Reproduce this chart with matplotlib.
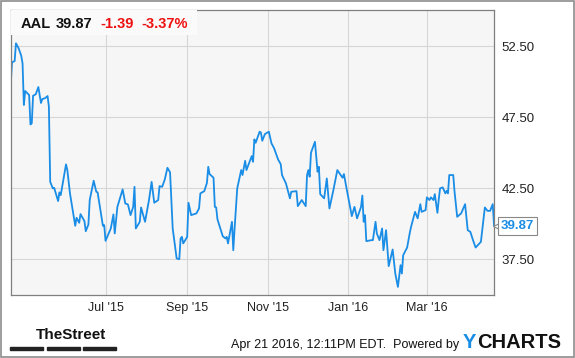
import numpy as np
import pandas as pd
import matplotlib
matplotlib.use("Agg")
import matplotlib.pyplot as plt
from matplotlib.patches import Rectangle

# AAL one-year price history
# days = calendar days since 2015-04-20
START = pd.Timestamp("2015-04-20")
days = [0, 1, 3, 4, 6, 8, 9, 10, 11, 14, 15, 16, 17, 19, 21, 23, 24, 26, 28, 29,
        30, 32, 33, 36, 37, 38, 42, 43, 45, 49, 50, 52, 53, 56, 57, 59, 60, 63, 65, 66,
        70, 71, 72, 76, 78, 79, 81, 85, 87, 89, 91, 93, 94, 95, 98, 99, 102, 105, 107, 109,
        112, 113, 115, 117, 119, 121, 123, 126, 128, 129, 130, 131, 134, 135, 137, 141, 143, 144, 147, 149,
        150, 151, 154, 155, 156, 157, 161, 163, 164, 165, 168, 169, 170, 172, 175, 176, 178, 179, 182, 183,
        184, 185, 186, 189, 190, 191, 193, 196, 198, 200, 203, 205, 206, 209, 212, 213, 217, 218, 221, 224,
        225, 226, 227, 228, 231, 233, 234, 235, 238, 240, 242, 245, 248, 250, 252, 253, 255, 259, 261, 263,
        266, 267, 268, 269, 270, 274, 275, 277, 278, 280, 282, 283, 285, 287, 290, 292, 294, 296, 297, 298,
        301, 303, 304, 307, 309, 311, 312, 315, 316, 318, 319, 321, 322, 324, 325, 326, 328, 330, 331, 332,
        333, 336, 337, 339, 342, 345, 347, 349, 351, 353, 357, 360, 362, 364, 366, 367]
prices = [49.77, 51.37, 51.46, 52.71, 52.36, 51.84, 51.30, 48.37, 49.35, 49.07, 47.00, 47.08, 49.02, 49.12, 49.63, 48.51, 48.79, 48.84, 49.00, 48.25,
          42.96, 42.50, 42.54, 41.61, 42.22, 42.03, 44.19, 43.79, 42.15, 39.87, 40.43, 40.08, 40.69, 40.20, 39.49, 39.96, 41.68, 43.04, 42.26, 42.22,
          39.87, 39.92, 38.81, 39.68, 40.67, 39.33, 41.20, 42.43, 41.44, 41.37, 40.62, 41.20, 42.61, 39.68, 40.15, 41.16, 40.15, 41.68, 42.96, 41.49,
          41.68, 42.66, 42.61, 43.13, 43.95, 43.63, 39.68, 37.57, 37.52, 38.98, 39.09, 38.63, 39.09, 41.49, 40.62, 40.74, 41.09, 42.15, 42.31, 42.89,
          44.02, 43.51, 43.25, 41.20, 41.16, 40.32, 39.14, 38.98, 39.09, 38.63, 40.15, 38.15, 39.68, 42.50, 43.79, 43.44, 44.44, 43.79, 44.54, 44.77,
          44.37, 45.95, 45.71, 46.49, 46.42, 45.85, 46.32, 46.49, 45.67, 45.32, 44.54, 44.21, 43.44, 42.85, 41.80, 42.26, 42.31, 41.25, 41.68, 41.25,
          43.44, 43.79, 43.32, 45.01, 45.78, 43.67, 44.02, 42.10, 41.80, 43.20, 41.09, 42.38, 43.79, 43.51, 43.25, 43.51, 42.50, 40.55, 41.20, 40.39,
          41.20, 42.00, 40.15, 40.62, 38.79, 38.86, 38.86, 40.15, 39.33, 38.86, 39.68, 38.15, 39.56, 37.03, 38.20, 36.51, 35.57, 37.10, 36.51, 37.80,
          38.34, 39.37, 39.80, 40.85, 40.39, 41.39, 40.85, 40.97, 41.87, 41.68, 41.87, 41.68, 42.10, 40.78, 41.72, 42.50, 42.57, 42.15, 42.33, 42.15,
          43.44, 43.44, 42.26, 40.50, 40.74, 41.39, 39.56, 39.44, 38.86, 38.34, 38.74, 41.16, 40.92, 40.92, 41.39, 39.87]

ticker = "AAL"
last_price = "39.87"
change = "-1.39"
change_pct = "-3.37%"
y_ticks = [37.5, 42.5, 47.5, 52.5]
x_ticks = ["2015-07-01", "2015-09-01", "2015-11-01", "2016-01-01", "2016-03-01"]
x_labels = ["Jul '15", "Sep '15", "Nov '15", "Jan '16", "Mar '16"]

dates = START + pd.to_timedelta(days, unit="D")

plt.rcParams["font.family"] = ["Liberation Sans", "DejaVu Sans"]

W, H = 575, 358
fig = plt.figure(figsize=(W / 100, H / 100), dpi=100)
ax = fig.add_axes([0.0186, 0.176, 0.8411, 0.7952])
ax.set_facecolor("#f6f6f6")

ax.plot(dates, prices, color="#1a8de6", lw=1.3, solid_joinstyle="round")

ax.set_xlim(START, START + pd.Timedelta(days=367.2))
ax.set_ylim(35.0, 55.03)

ax.set_yticks(y_ticks)
ax.set_yticklabels([f"{v:.2f}" for v in y_ticks])
ax.yaxis.tick_right()
ax.set_xticks(pd.to_datetime(x_ticks))
ax.set_xticklabels(x_labels)
ax.tick_params(axis="both", length=0, labelsize=9, colors="#222222")
ax.tick_params(axis="y", pad=5, labelsize=9.5)
ax.tick_params(axis="x", pad=5)
ax.grid(True, color="#d6d6d6", lw=0.8)
ax.set_axisbelow(True)
for s in ax.spines.values():
    s.set_color("#7f7f7f")
    s.set_linewidth(0.9)

# header box with quote
ax.add_patch(Rectangle((0, 0.912), 0.385, 0.088, transform=ax.transAxes,
                       facecolor="#fafafa", edgecolor="none", zorder=3))
hy = 1 - 23.5 / H
hdr = dict(fontsize=10.5, fontweight="bold", va="center", zorder=4)
fig.text(20.7 / W, hy, ticker, color="#111111", **hdr)
fig.text(56 / W, hy, last_price, color="#111111", **hdr)
fig.text(100.7 / W, hy, change, color="#ee1111", **hdr)
fig.text(141.7 / W, hy, change_pct, color="#ee1111", **hdr)

# last price flag on the right
ax.plot([1.007], [prices[-1]], marker="<", ms=7, mfc="white", mec="#888888", mew=0.8,
        transform=ax.get_yaxis_transform(), clip_on=False, zorder=5)
ax.text(1.013, prices[-1], last_price, transform=ax.get_yaxis_transform(), fontsize=9.5,
        fontweight="bold", color="#1a8de6", va="center", ha="left", clip_on=False, zorder=6,
        bbox=dict(boxstyle="square,pad=0.22", fc="white", ec="#888888", lw=0.8))

# footer
fig.text(36 / W, 1 - 335 / H, "TheStreet", fontsize=11, fontweight="bold",
         family=["Liberation Sans Narrow", "Liberation Sans"], color="#111111", va="center")
for x0 in (10, 47, 83):
    fig.patches.append(Rectangle((x0 / W, 1 - 349.5 / H), 33 / W, 3 / H,
                                 transform=fig.transFigure, color="#222222"))
fig.text(459 / W, 1 - 345 / H, "Apr 21 2016, 12:11PM EDT.  Powered by", fontsize=9,
         color="#111111", ha="right", va="center")
fig.text(463 / W, 1 - 342 / H, "Y", fontsize=14.5, fontweight="bold", color="#1a8de6",
         va="center")
fig.text(477 / W, 1 - 342 / H, "CHARTS", fontsize=14.5, fontweight="bold", color="#111111",
         va="center")

# outer frame
fig.patches.append(Rectangle((0.001, 0.002), 0.997, 0.995, transform=fig.transFigure,
                             fill=False, edgecolor="#8c8c8c", lw=1.2))

fig.savefig("out.png", dpi=100)
